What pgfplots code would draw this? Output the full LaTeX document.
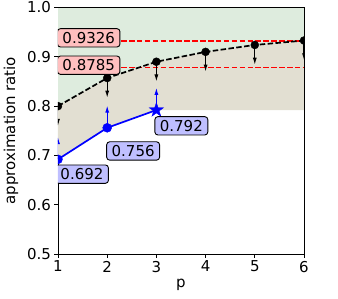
\documentclass[border=0pt]{standalone}
\usepackage{fontspec}
\setmainfont{DejaVu Sans}
\usepackage{pgfplots}
\pgfplotsset{compat=1.18}
\usetikzlibrary{arrows.meta}
\definecolor{greenfill}{RGB}{222,236,222}
\definecolor{beigefill}{RGB}{226,223,210}
\definecolor{pinkbox}{RGB}{255,191,191}
\definecolor{bluebox}{RGB}{191,191,255}
\definecolor{refred}{RGB}{255,0,0}
\pgfdeclareplotmark{fstar}{%
 \pgfpathmoveto{\pgfqpointpolar{90}{\pgfplotmarksize}}%
 \pgfpathlineto{\pgfqpointpolar{126}{0.382\pgfplotmarksize}}%
 \pgfpathlineto{\pgfqpointpolar{162}{\pgfplotmarksize}}%
 \pgfpathlineto{\pgfqpointpolar{198}{0.382\pgfplotmarksize}}%
 \pgfpathlineto{\pgfqpointpolar{234}{\pgfplotmarksize}}%
 \pgfpathlineto{\pgfqpointpolar{270}{0.382\pgfplotmarksize}}%
 \pgfpathlineto{\pgfqpointpolar{306}{\pgfplotmarksize}}%
 \pgfpathlineto{\pgfqpointpolar{342}{0.382\pgfplotmarksize}}%
 \pgfpathlineto{\pgfqpointpolar{18}{\pgfplotmarksize}}%
 \pgfpathlineto{\pgfqpointpolar{54}{0.382\pgfplotmarksize}}%
 \pgfpathclose\pgfusepathqfillstroke}
\tikzset{
 lbl/.style={draw=black, line width=0.9pt, rounded corners=3pt, inner xsep=5pt, inner ysep=3.5pt, font=\fontsize{15}{17}\selectfont},
 refline/.style={draw=refred, line width=1.8pt, dash pattern=on 5.5pt off 2.4pt},
}
\begin{document}
\begin{tikzpicture}
\useasboundingbox (-58pt,-44pt) rectangle (280pt,254pt);
\begin{axis}[
 at={(0,0)}, anchor=south west,
 scale only axis, width=246pt, height=246.5pt,
 xmin=1, xmax=6, ymin=0.5, ymax=1.0,
 xtick={1,2,3,4,5,6}, ytick={0.5,0.6,0.7,0.8,0.9,1.0},
 tick align=outside, tick pos=left,
 major tick length=3.5pt,
 every tick/.style={black, line width=0.8pt},
 axis line style={line width=0.8pt},
 /pgf/number format/assume math mode=true,
 yticklabel style={/pgf/number format/fixed, /pgf/number format/precision=1, /pgf/number format/fixed zerofill},
 tick label style={font=\fontsize{15}{17}\selectfont},
 label style={font=\fontsize{15}{17}\selectfont},
 xlabel={p}, ylabel={approximation ratio},
 xlabel style={at={(axis description cs:0.5,0)}, anchor=base, yshift=-33pt},
 ylabel style={at={(axis description cs:0,0.5)}, anchor=center, yshift=47pt},
 clip marker paths=true,
 unbounded coords=jump,
]
% regions
\addplot[fill=greenfill, draw=none] coordinates {(1,0.792) (6,0.792) (6,1.0) (1,1.0)} -- cycle;
\addplot[fill=beigefill, draw=none] coordinates {(1,0.692) (2,0.756) (3,0.792) (6,0.792) (6,0.933) (5,0.924) (4,0.910) (3,0.890) (2,0.857) (1,0.800)} -- cycle;
% red reference lines
\addplot[refline] coordinates {(1,0.9326) (6,0.9326) (6,nan) (1,0.8785) (6,0.8785)};
% black upper values
\addplot[black, line width=1.7pt, dash pattern=on 5.5pt off 2.4pt] coordinates {(1,0.800) (2,0.857) (3,0.890) (4,0.910) (5,0.924) (6,0.933)};
\addplot[black, only marks, mark=*, mark size=4pt] coordinates {(1,0.800) (2,0.857) (3,0.890) (4,0.910) (5,0.924) (6,0.933)};
\addplot[black, line width=1pt, -{Latex[length=7pt,width=4pt]}, quiver={u=0, v=-0.04}] coordinates {(1,0.800) (2,0.857) (3,0.890) (4,0.910) (5,0.924) (6,0.933)};
% blue lower values
\addplot[blue, line width=1.7pt] coordinates {(1,0.692) (2,0.756) (3,0.792)};
\addplot[blue, only marks, mark=*, mark size=4.5pt] coordinates {(1,0.692) (2,0.756)};
\addplot[blue, only marks, mark=fstar, mark size=7.5pt] coordinates {(3,0.792)};
\addplot[blue, line width=1pt, -{Latex[length=7pt,width=4pt]}, quiver={u=0, v=0.045}] coordinates {(1,0.692) (2,0.756) (3,0.792)};
% labels
\node[lbl, fill=pinkbox, anchor=west] at (axis cs:0.98,0.9385) {0.9326};
\node[lbl, fill=pinkbox, anchor=west] at (axis cs:0.98,0.883) {0.8785};
\node[lbl, fill=bluebox, anchor=west] at (axis cs:0.94,0.662) {0.692};
\node[lbl, fill=bluebox, anchor=west] at (axis cs:1.98,0.709) {0.756};
\node[lbl, fill=bluebox, anchor=west] at (axis cs:2.96,0.760) {0.792};
\end{axis}
\end{tikzpicture}
\end{document}
